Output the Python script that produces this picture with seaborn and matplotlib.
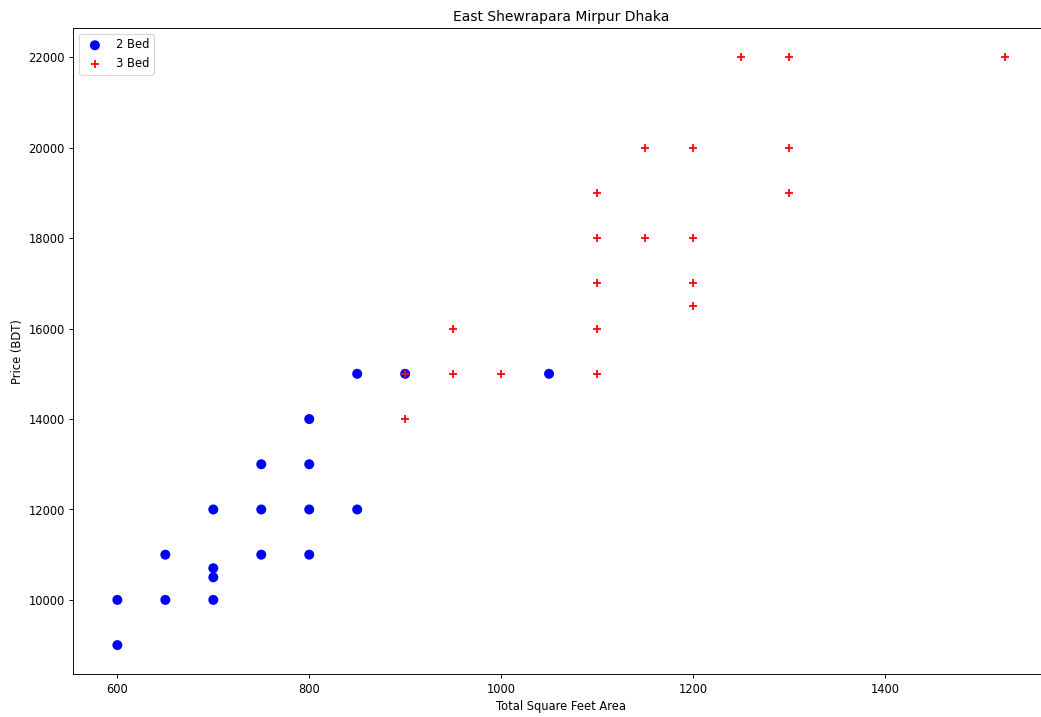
import matplotlib
matplotlib.use("Agg")
import matplotlib.pyplot as plt
import seaborn as sns
import pandas as pd

# Listings in East Shewrapara, Mirpur (Dhaka): area vs. monthly rent
bed2_sqft = [600, 600, 650, 650, 700, 700, 700, 700, 750, 750, 750,
             800, 800, 800, 800, 850, 850, 900, 1050]
bed2_price = [10000, 9000, 11000, 10000, 12000, 10700, 10500, 10000, 13000, 12000, 11000,
              14000, 13000, 12000, 11000, 15000, 12000, 15000, 15000]

bed3_sqft = [900, 900, 950, 950, 1000, 1100, 1100, 1100, 1100, 1100, 1150, 1150,
             1200, 1200, 1200, 1200, 1250, 1300, 1300, 1300, 1525]
bed3_price = [15000, 14000, 16000, 15000, 15000, 19000, 18000, 17000, 16000, 15000, 20000, 18000,
              20000, 18000, 17000, 16500, 22000, 22000, 20000, 19000, 22000]

bed2 = pd.DataFrame({"total_sqft": bed2_sqft, "price": bed2_price})
bed3 = pd.DataFrame({"total_sqft": bed3_sqft, "price": bed3_price})

DPI = 83
W, H = 1041, 717
fig = plt.figure(figsize=(W / DPI + 0.001, H / DPI + 0.001), dpi=DPI)
ax = fig.add_axes([73 / W, (H - 674.5) / H, (1049 - 73) / W, (674.5 - 28) / H])

sns.scatterplot(data=bed2, x="total_sqft", y="price", color="blue", marker="o",
                s=75, edgecolor="none", linewidth=0, label="2 Bed", ax=ax)
sns.scatterplot(data=bed3, x="total_sqft", y="price", color="red", marker="+",
                s=56, linewidth=1.5, label="3 Bed", ax=ax)

ax.set_xlabel("Total Square Feet Area")
ax.set_ylabel("Price (BDT)")
ax.set_title("East Shewrapara Mirpur Dhaka")
ax.legend(loc="upper left")

fig.savefig("out.png", dpi=DPI)
